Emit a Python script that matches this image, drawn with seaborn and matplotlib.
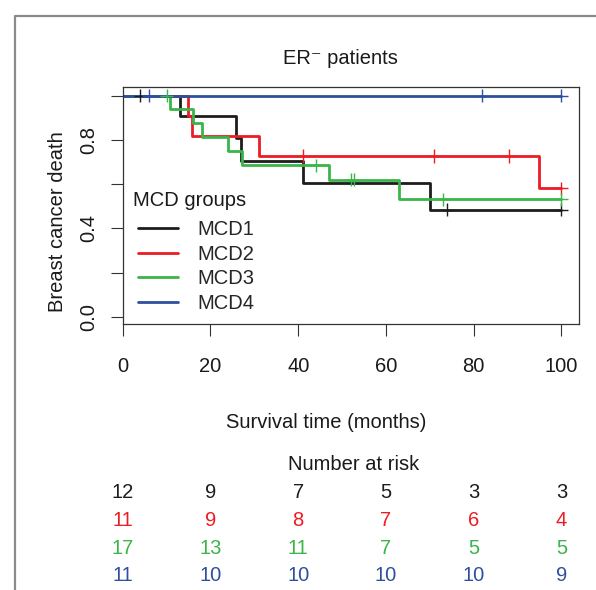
import numpy as np
import pandas as pd
import matplotlib
matplotlib.use("Agg")
import matplotlib.pyplot as plt
import matplotlib.transforms as mtransforms
from matplotlib.lines import Line2D
import seaborn as sns

# data
groups = ["MCD1", "MCD2", "MCD3", "MCD4"]
colors = ["#1d1d1b", "#ed1c24", "#3ab54a", "#2e4f9e"]

# Kaplan-Meier step curves (time of change, survival after it)
t_mcd1 = [0, 13, 25.8, 27, 41, 70, 100]
s_mcd1 = [1.0, 0.909, 0.807, 0.705, 0.605, 0.485, 0.485]
t_mcd2 = [0, 14.9, 15.7, 31.1, 94.9, 100]
s_mcd2 = [1.0, 0.909, 0.818, 0.727, 0.582, 0.582]
t_mcd3 = [0, 10.8, 16.1, 18, 23.9, 27.1, 47, 63, 100]
s_mcd3 = [1.0, 0.938, 0.875, 0.815, 0.751, 0.686, 0.62, 0.532, 0.532]
t_mcd4 = [0, 100]
s_mcd4 = [1.0, 1.0]

# censoring times
c_mcd1 = [4, 74, 100]
c_mcd2 = [41, 71, 88, 100]
c_mcd3 = [10, 44, 52, 52.8, 73, 100]
c_mcd4 = [6, 82, 100]

# number at risk
risk_times = [0, 20, 40, 60, 80, 100]
risk_mcd1 = [12, 9, 7, 5, 3, 3]
risk_mcd2 = [11, 9, 8, 7, 6, 4]
risk_mcd3 = [17, 13, 11, 7, 5, 5]
risk_mcd4 = [11, 10, 10, 10, 10, 9]

steps = {"MCD1": (t_mcd1, s_mcd1), "MCD2": (t_mcd2, s_mcd2),
         "MCD3": (t_mcd3, s_mcd3), "MCD4": (t_mcd4, s_mcd4)}
cens = {"MCD1": c_mcd1, "MCD2": c_mcd2, "MCD3": c_mcd3, "MCD4": c_mcd4}
risk = [risk_mcd1, risk_mcd2, risk_mcd3, risk_mcd4]

curve_rows = []
cens_rows = []
for g in groups:
    t, s = steps[g]
    for ti, si in zip(t, s):
        curve_rows.append((g, ti, si))
    for c in cens[g]:
        k = np.searchsorted(t, c, side="right") - 1
        cens_rows.append((g, c, s[k]))
curves = pd.DataFrame(curve_rows, columns=["group", "time", "surv"])
marks = pd.DataFrame(cens_rows, columns=["group", "time", "surv"])

sns.set_style("ticks")
plt.rcParams["font.family"] = ["Liberation Sans", "DejaVu Sans"]
fs = 14.5
W, H = 596, 590

fig = plt.figure(figsize=(W / 100, H / 100), dpi=100)
ax = fig.add_axes([122.7 / W, 1 - 324 / H, (579 - 122.7) / W, (324 - 86.7) / H])

pal = dict(zip(groups, colors))
sns.lineplot(data=curves, x="time", y="surv", hue="group", palette=pal,
             drawstyle="steps-post", estimator=None, sort=False,
             lw=2, legend=False, ax=ax)
sns.scatterplot(data=marks, x="time", y="surv", hue="group", palette=pal,
                marker="+", s=90, linewidth=1, legend=False, ax=ax, zorder=3)

ax.set_xlim(0, 104)
ax.set_ylim(-0.033, 1.041)
ax.set_xticks(risk_times)
ax.set_xticklabels([str(v) for v in risk_times])
ax.set_yticks([0, 0.2, 0.4, 0.6, 0.8, 1.0])
ax.set_yticklabels(["0.0", "", "0.4", "", "0.8", ""], rotation=90, va="center")
ax.set_xlabel("")
ax.set_ylabel("")
ax.tick_params(direction="out", length=8.6, width=0.8, color="#333333",
               labelsize=fs, labelcolor="#1a1a1a")
ax.tick_params(axis="x", pad=15)
ax.tick_params(axis="y", pad=9)
for sp in ax.spines.values():
    sp.set_visible(True)
    sp.set_color("#333333")
    sp.set_linewidth(0.9)

# legend
handles = ax.get_lines()[:4]
ax.legend(handles, groups, frameon=False, loc="upper left",
          bbox_to_anchor=(138 / W, 1 - 220 / H), bbox_transform=fig.transFigure,
          borderpad=0, borderaxespad=0, handlelength=2.0, handletextpad=0.95,
          labelspacing=0.28, fontsize=fs)
fig.text(133 / W, 1 - 200 / H, "MCD groups", ha="left", va="center",
         fontsize=fs, color="#1a1a1a")

# titles and labels
fig.text(340 / W, 1 - 59 / H, "ER\u207b patients", ha="center", va="center",
         fontsize=fs, color="#1a1a1a")
fig.text(58 / W, 1 - 222 / H, "Breast cancer death", rotation=90,
         ha="center", va="center", fontsize=fs, color="#1a1a1a")
fig.text(326 / W, 1 - 422 / H, "Survival time (months)", ha="center",
         va="center", fontsize=fs, color="#1a1a1a")
fig.text(354 / W, 1 - 464 / H, "Number at risk", ha="center", va="center",
         fontsize=fs, color="#1a1a1a")

# number at risk table
trans = mtransforms.blended_transform_factory(ax.transData, fig.transFigure)
row_y = [493, 520, 548, 575.5]
for vals, col, yy in zip(risk, colors, row_y):
    for t, v in zip(risk_times, vals):
        ax.text(t, 1 - yy / H, str(v), transform=trans, ha="center",
                va="center", fontsize=fs, color=col, clip_on=False)

# grey frame cropped at right and bottom
fig.add_artist(Line2D([15 / W, 15 / W, 1], [0, 1 - 16 / H, 1 - 16 / H],
                      transform=fig.transFigure, color="#8a8a8a", lw=1.6))

fig.savefig("out.png", dpi=100)
